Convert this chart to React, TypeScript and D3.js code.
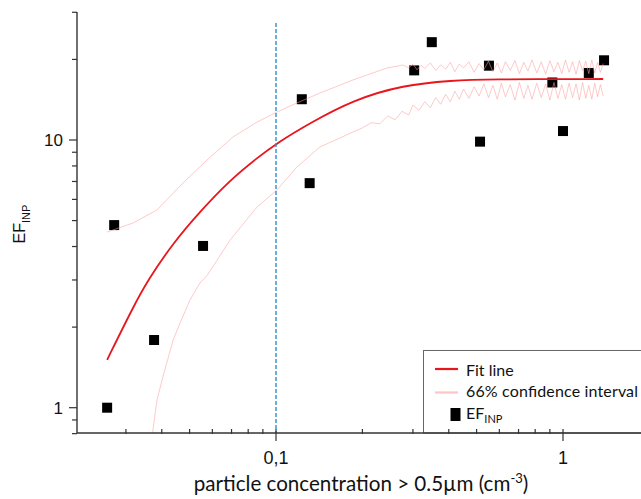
import React from 'react'
import * as d3 from 'd3'

// measured EF_INP points
const pointX = [0.0258, 0.0273, 0.0376, 0.0557, 0.123, 0.131, 0.303, 0.349, 0.514, 0.552, 0.918, 1.0, 1.23, 1.39]
const pointY = [1.0, 4.81, 1.79, 4.02, 14.2, 6.9, 18.2, 23.2, 9.86, 18.95, 16.4, 10.8, 17.8, 19.85]

// fit line
const fitX = [0.0258, 0.0318, 0.0358, 0.0438, 0.0543, 0.0692, 0.0859, 0.1008, 0.1314, 0.1855, 0.277, 0.414, 0.54, 1.38]
const fitY = [1.51, 2.38, 3.0, 4.12, 5.4, 7.09, 8.57, 9.74, 11.57, 14.1, 16.05, 16.69, 16.86, 16.9]

// 66% confidence interval, upper edge
const upperX = [0.0258, 0.0318, 0.0385, 0.0474, 0.0575, 0.0708, 0.0859, 0.1008, 0.1183, 0.1423, 0.1855, 0.2436, 0.277,
  0.29, 0.30, 0.31, 0.32, 0.33, 0.345, 0.36, 0.375, 0.39, 0.405,
  0.42, 0.435, 0.45, 0.47, 0.49, 0.51, 0.53, 0.55, 0.57, 0.59,
  0.61, 0.63, 0.655, 0.68, 0.705, 0.73, 0.755, 0.78, 0.81, 0.84,
  0.87, 0.90, 0.93, 0.96, 0.99, 1.02, 1.05, 1.08, 1.11, 1.14,
  1.17, 1.2, 1.23, 1.26, 1.29, 1.32, 1.35, 1.38]
const upperY = [4.53, 4.9, 5.48, 6.91, 8.42, 10.26, 11.67, 12.72, 13.75, 14.98, 16.76, 18.58, 19.06,
  18.6, 19.2, 18.3, 19.0, 18.5, 19.4, 18.2, 19.1, 18.4, 19.5,
  18.0, 19.2, 18.6, 19.6, 17.9, 19.3, 18.3, 19.7, 18.0, 19.4,
  17.8, 19.6, 18.2, 19.8, 17.7, 19.5, 18.1, 19.9, 17.8, 19.6,
  17.6, 19.8, 18.0, 19.5, 17.7, 19.9, 17.9, 19.6, 17.6, 19.8,
  18.1, 19.7, 17.7, 19.9, 17.8, 19.5, 17.9, 19.3]

// 66% confidence interval, lower edge
const lowerX = [0.037, 0.0385, 0.0401, 0.0438, 0.0463, 0.0502, 0.0543, 0.0577, 0.0692, 0.0859, 0.1008, 0.1183, 0.1423, 0.1855,
  0.20, 0.215, 0.23, 0.245, 0.26, 0.275, 0.29, 0.30, 0.315, 0.33,
  0.345, 0.36, 0.375, 0.39, 0.405, 0.42, 0.435, 0.45, 0.47, 0.49,
  0.51, 0.53, 0.55, 0.57, 0.59, 0.61, 0.63, 0.655, 0.68, 0.705,
  0.73, 0.755, 0.78, 0.81, 0.84, 0.87, 0.90, 0.93, 0.96, 0.99,
  1.02, 1.05, 1.08, 1.11, 1.14, 1.17, 1.2, 1.23, 1.26, 1.29,
  1.32, 1.35, 1.38]
const lowerY = [0.78, 1.07, 1.27, 1.79, 2.07, 2.53, 2.92, 3.13, 4.23, 5.62, 6.51, 7.93, 9.42, 10.71,
  11.1, 11.6, 11.5, 12.3, 11.9, 12.8, 12.4, 13.5, 12.9, 13.9,
  13.2, 14.4, 13.6, 14.8, 13.9, 15.2, 14.2, 15.5, 14.3, 15.8,
  14.6, 16.2, 14.4, 16.0, 14.2, 16.3, 14.5, 16.1, 14.1, 16.4,
  14.3, 16.0, 14.2, 16.3, 14.4, 16.2, 14.1, 16.4, 14.3, 16.1,
  14.2, 16.3, 14.4, 16.2, 14.1, 16.4, 14.3, 16.0, 14.2, 16.3,
  14.5, 16.1, 14.6]

const xMajor = [0.1, 1]
const xMajorLabels = ['0,1', '1']
const xMinor = [0.03, 0.04, 0.05, 0.06, 0.07, 0.08, 0.09, 0.2, 0.3, 0.4, 0.5, 0.6, 0.7, 0.8, 0.9]
const yMajor = [1, 10]
const yMajorLabels = ['1', '10']
const yMinor = [0.8, 0.9, 2, 3, 4, 5, 6, 7, 8, 9, 20, 30]

const cutoff = 0.1

const W = 641
const H = 499
const left = 77
const top = 12
const bottom = 433

export default function App() {
  // scales pinned to the decade positions of the original
  const x = d3.scaleLog().domain([0.1, 1]).range([276, 563])
  const y = d3.scaleLog().domain([1, 10]).range([407.7, 140])

  const bandLine = d3.line<[number, number]>()
    .x(d => x(d[0]))
    .y(d => y(d[1]))
  const fitLine = d3.line<[number, number]>()
    .x(d => x(d[0]))
    .y(d => y(d[1]))
    .curve(d3.curveBasis)

  const fit = fitX.map((v, i) => [v, fitY[i]] as [number, number])
  const upper = upperX.map((v, i) => [v, upperY[i]] as [number, number])
  const lower = lowerX.map((v, i) => [v, lowerY[i]] as [number, number])

  const axisColor = '#333'
  const tickFont = '"Liberation Sans", Arial, sans-serif'
  const textFont = 'Lato, "Open Sans", sans-serif'

  return (
    <svg width={W} height={H} style={{ position: 'absolute', left: 0, top: 0, background: '#fff' }}>
      <defs>
        <clipPath id="plot">
          <rect x={left} y={top} width={W - left} height={bottom - top} />
        </clipPath>
      </defs>

      <g clipPath="url(#plot)">
        {pointX.map((v, i) => (
          <rect key={i} x={x(v) - 5} y={y(pointY[i]) - 5} width={10} height={10} fill="#000" />
        ))}
        <path d={bandLine(upper) || ''} fill="none" stroke="#ff9c9c" strokeWidth={1} strokeOpacity={0.55} />
        <path d={bandLine(lower) || ''} fill="none" stroke="#ff9c9c" strokeWidth={1} strokeOpacity={0.55} />
        <path d={fitLine(fit) || ''} fill="none" stroke="#e8161c" strokeWidth={1.8} />
        <line x1={x(cutoff)} x2={x(cutoff)} y1={23} y2={bottom} stroke="#2a8fd0" strokeWidth={1.4} strokeDasharray="4,2" />
      </g>

      {/* y axis */}
      <line x1={left} x2={left} y1={top} y2={bottom} stroke={axisColor} strokeWidth={1.4} />
      {yMinor.map(v => (
        <line key={v} x1={left - 5} x2={left} y1={y(v)} y2={y(v)} stroke={axisColor} strokeWidth={1.2} />
      ))}
      {yMajor.map((v, i) => (
        <g key={v}>
          <line x1={left - 8} x2={left} y1={y(v)} y2={y(v)} stroke={axisColor} strokeWidth={1.2} />
          <text x={left - 14} y={y(v) + 6} textAnchor="end" fontFamily={tickFont} fontSize={17} fill="#111">{yMajorLabels[i]}</text>
        </g>
      ))}
      <text transform="translate(25,224) rotate(-90)" textAnchor="middle" fontFamily={tickFont} fontSize={16} fill="#111">
        EF<tspan fontSize={11} dy={5}>INP</tspan>
      </text>

      {/* legend */}
      <rect x={423.5} y={350.5} width={W} height={bottom - 350.5} fill="#fff" stroke="#666" strokeWidth={1} />
      <line x1={435} x2={458} y1={369} y2={369} stroke="#e8161c" strokeWidth={2.2} />
      <text x={466} y={376} fontFamily={textFont} fontSize={16} fill="#111">Fit line</text>
      <line x1={435} x2={458} y1={392.5} y2={392.5} stroke="#ffc4c4" strokeWidth={2.2} />
      <text x={466} y={397} fontFamily={textFont} fontSize={16} fill="#111" textLength={172}>66% confidence interval</text>
      <rect x={450.5} y={408} width={10} height={13} fill="#000" />
      <text x={466} y={419} fontFamily={textFont} fontSize={16} fill="#111">
        EF<tspan fontSize={11} dy={4}>INP</tspan>
      </text>

      {/* x axis */}
      <line x1={left} x2={W} y1={bottom} y2={bottom} stroke={axisColor} strokeWidth={1.4} />
      {xMinor.map(v => (
        <line key={v} x1={x(v)} x2={x(v)} y1={bottom - 4} y2={bottom + 1} stroke={axisColor} strokeWidth={1.2} />
      ))}
      {xMajor.map((v, i) => (
        <g key={v}>
          <line x1={x(v)} x2={x(v)} y1={bottom - 4} y2={bottom + 8} stroke={axisColor} strokeWidth={1.2} />
          <text x={x(v)} y={464} textAnchor="middle" fontFamily={tickFont} fontSize={18} fill="#111">{xMajorLabels[i]}</text>
        </g>
      ))}
      <text x={361} y={491} textAnchor="middle" fontFamily={textFont} fontSize={20.6} fill="#111">
        particle concentration &gt; 0.5µm (cm<tspan fontSize={13} dy={-8}>-3</tspan><tspan dy={8}>)</tspan>
      </text>
    </svg>
  )
}
